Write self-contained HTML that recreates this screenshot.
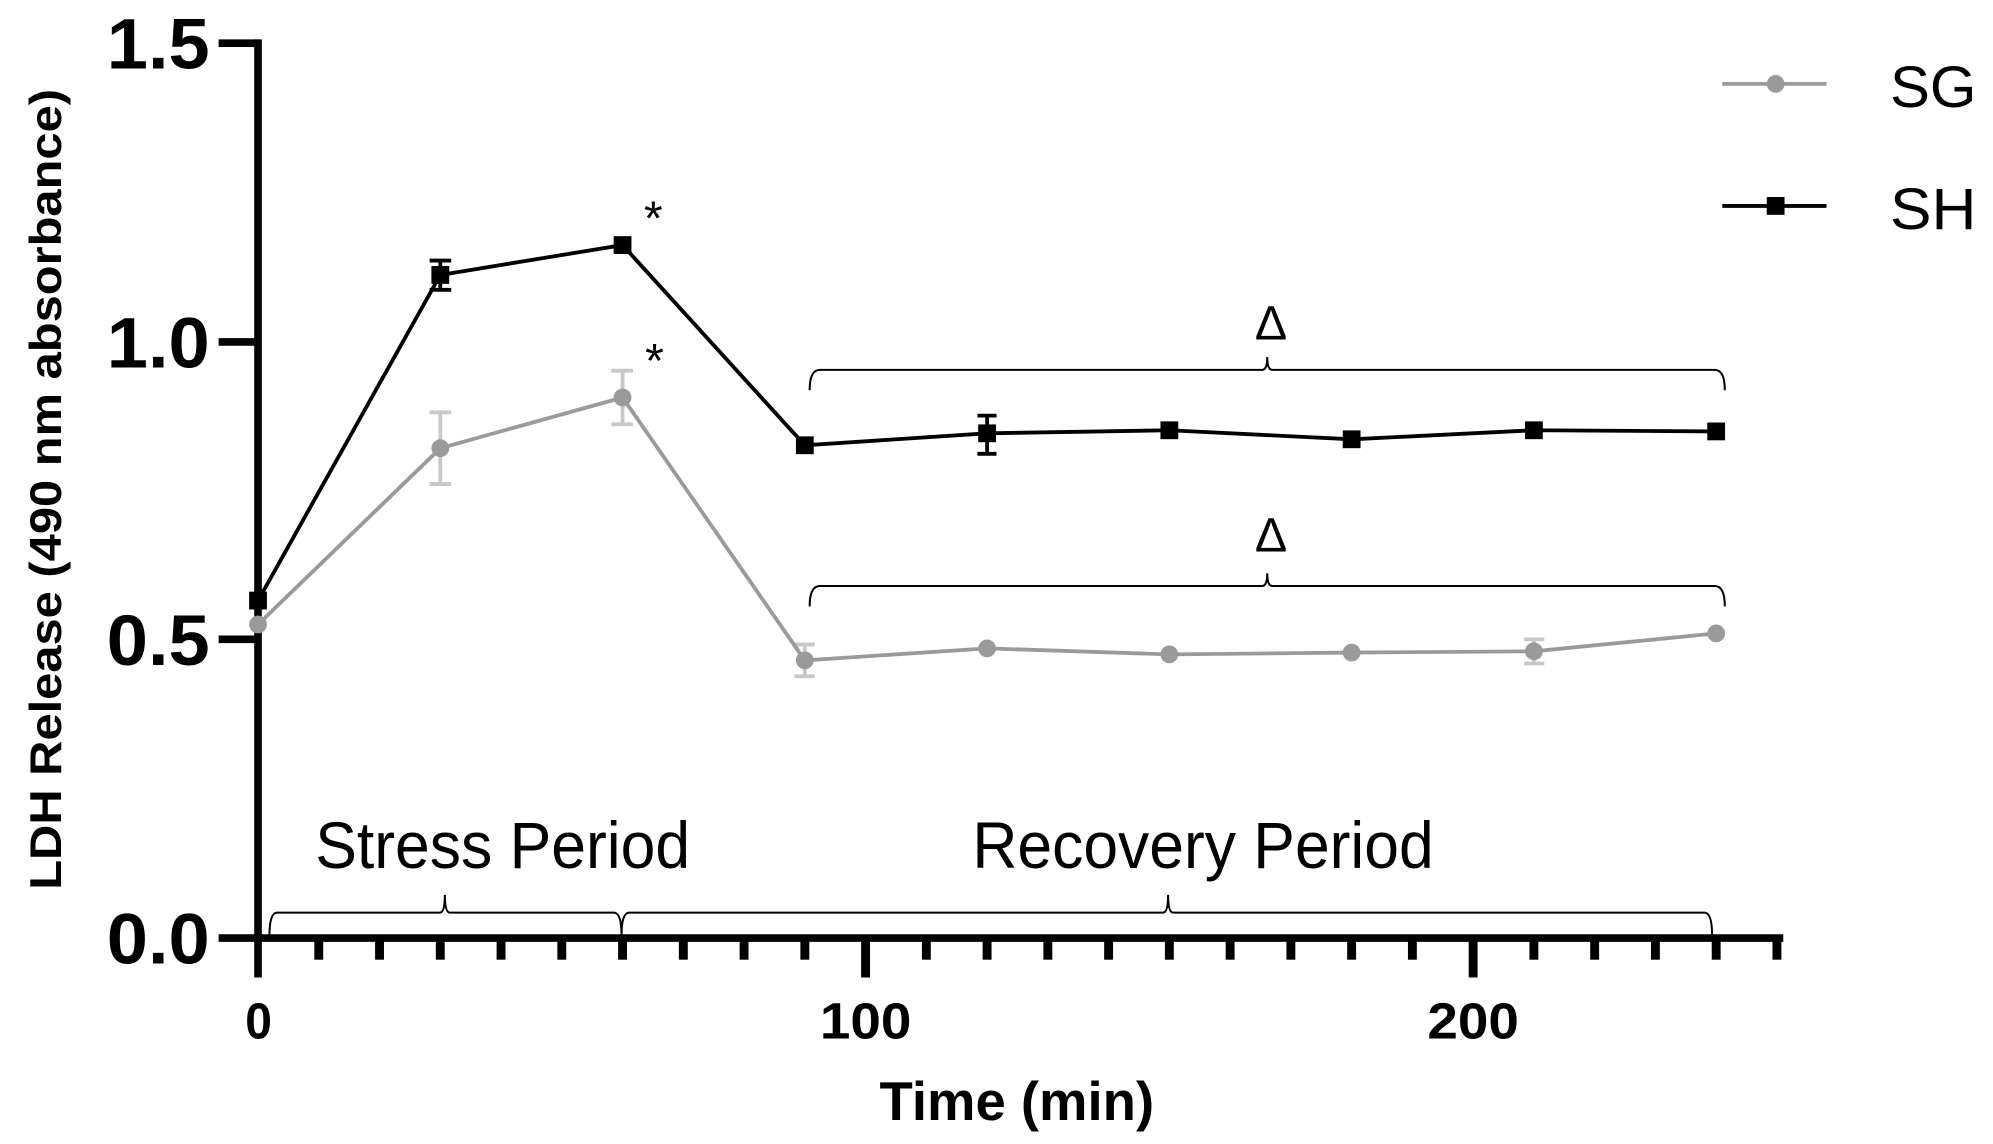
<!DOCTYPE html>
<html><head><meta charset="utf-8"><style>
html,body{margin:0;padding:0;background:#fff;}
svg{display:block;}
text{font-family:"Liberation Sans",Arial,sans-serif;}
</style></head><body>
<svg width="1993" height="1144" viewBox="0 0 1568 900" preserveAspectRatio="none" xmlns="http://www.w3.org/2000/svg">
<rect width="1568" height="900" fill="#fff"/>
<g stroke="#000" stroke-width="6" fill="none">
<line x1="203" y1="31" x2="203" y2="769"/>
<line x1="172" y1="738" x2="1403" y2="738"/>
<line x1="172" y1="34" x2="203" y2="34"/>
<line x1="172" y1="269" x2="203" y2="269"/>
<line x1="172" y1="503" x2="203" y2="503"/>
</g>
<g stroke="#000" stroke-width="7">
<line x1="250.8" y1="738" x2="250.8" y2="755"/><line x1="298.6" y1="738" x2="298.6" y2="755"/><line x1="346.4" y1="738" x2="346.4" y2="755"/><line x1="394.2" y1="738" x2="394.2" y2="755"/><line x1="442" y1="738" x2="442" y2="755"/><line x1="489.8" y1="738" x2="489.8" y2="755"/><line x1="537.6" y1="738" x2="537.6" y2="755"/><line x1="585.4" y1="738" x2="585.4" y2="755"/><line x1="633.2" y1="738" x2="633.2" y2="755"/>
<line x1="681" y1="738" x2="681" y2="769"/>
<line x1="728.8" y1="738" x2="728.8" y2="755"/><line x1="776.6" y1="738" x2="776.6" y2="755"/><line x1="824.4" y1="738" x2="824.4" y2="755"/><line x1="872.2" y1="738" x2="872.2" y2="755"/><line x1="920" y1="738" x2="920" y2="755"/><line x1="967.8" y1="738" x2="967.8" y2="755"/><line x1="1015.6" y1="738" x2="1015.6" y2="755"/><line x1="1063.4" y1="738" x2="1063.4" y2="755"/><line x1="1111.2" y1="738" x2="1111.2" y2="755"/>
<line x1="1159" y1="738" x2="1159" y2="769"/>
<line x1="1206.8" y1="738" x2="1206.8" y2="755"/><line x1="1254.6" y1="738" x2="1254.6" y2="755"/><line x1="1302.4" y1="738" x2="1302.4" y2="755"/><line x1="1350.2" y1="738" x2="1350.2" y2="755"/><line x1="1398" y1="738" x2="1398" y2="755"/>
</g>
<g font-weight="bold" font-size="56" fill="#000">
<text x="84" y="54" textLength="81" lengthAdjust="spacingAndGlyphs">1.5</text>
<text x="84" y="289" textLength="81" lengthAdjust="spacingAndGlyphs">1.0</text>
<text x="84" y="523" textLength="81" lengthAdjust="spacingAndGlyphs">0.5</text>
<text x="84" y="758" textLength="81" lengthAdjust="spacingAndGlyphs">0.0</text>
</g>
<g font-weight="bold" font-size="40" fill="#000">
<text x="193" y="817" textLength="21" lengthAdjust="spacingAndGlyphs">0</text>
<text x="645" y="817" textLength="72" lengthAdjust="spacingAndGlyphs">100</text>
<text x="1123" y="817" textLength="72" lengthAdjust="spacingAndGlyphs">200</text>
<text x="692" y="881" font-size="43" textLength="216" lengthAdjust="spacingAndGlyphs">Time (min)</text>
<text transform="translate(48,700) rotate(-90)" font-size="35" textLength="630" lengthAdjust="spacingAndGlyphs">LDH Release (490 nm absorbance)</text>
</g>
<g stroke="#000" stroke-width="1.6" fill="none">
<path d="M637,307 Q637,291 645,291 L993,291 Q997,291 997,281 Q997,291 1001,291 L1349,291 Q1357,291 1357,307"/>
<path d="M637,477 Q637,461 645,461 L993,461 Q997,461 997,451 Q997,461 1001,461 L1349,461 Q1357,461 1357,477"/>
<path d="M212,736 Q212,718 218,718 L346,718 Q350,718 350,704 Q350,718 354,718 L483,718 Q489,718 489,736 Q489,718 495,718 L915,718 Q919,718 919,704 Q919,718 923,718 L1341,718 Q1347,718 1347,736"/>
</g>
<g font-size="52" fill="#000">
<text x="248" y="683" textLength="295" lengthAdjust="spacingAndGlyphs">Stress Period</text>
<text x="765" y="683" textLength="363" lengthAdjust="spacingAndGlyphs">Recovery Period</text>
</g>
<g font-size="38" text-anchor="middle" fill="#000">
<text x="1000" y="267" font-family="Liberation Serif,serif" font-size="38">Δ</text>
<text x="1000" y="434" font-family="Liberation Serif,serif" font-size="38">Δ</text>
<text x="514" y="185">*</text>
<text x="515" y="297">*</text>
</g>
<g stroke="#c8c8c8" stroke-width="3">
<line x1="346.4" y1="324.4" x2="346.4" y2="380.8"/><line x1="338" y1="324.4" x2="355" y2="324.4"/><line x1="338" y1="380.8" x2="355" y2="380.8"/>
<line x1="489.8" y1="291.6" x2="489.8" y2="333.8"/><line x1="481" y1="291.6" x2="498" y2="291.6"/><line x1="481" y1="333.8" x2="498" y2="333.8"/>
<line x1="633.2" y1="507" x2="633.2" y2="532"/><line x1="625" y1="507" x2="641" y2="507"/><line x1="625" y1="532" x2="641" y2="532"/>
<line x1="1206.8" y1="503" x2="1206.8" y2="522"/><line x1="1199" y1="503" x2="1215" y2="503"/><line x1="1199" y1="522" x2="1215" y2="522"/>
</g>
<polyline fill="none" stroke="#9a9a9a" stroke-width="3" points="203,491.3 346.4,352.6 489.8,312.7 633.2,519.5 776.6,510.1 920,514.8 1063.4,513.4 1206.8,512.4 1350.2,498.3"/>
<g fill="#9a9a9a">
<circle cx="203" cy="491.3" r="7"/><circle cx="346.4" cy="352.6" r="7"/><circle cx="489.8" cy="312.7" r="7"/><circle cx="633.2" cy="519.5" r="7"/><circle cx="776.6" cy="510.1" r="7"/><circle cx="920" cy="514.8" r="7"/><circle cx="1063.4" cy="513.4" r="7"/><circle cx="1206.8" cy="512.4" r="7"/><circle cx="1350.2" cy="498.3" r="7"/>
</g>
<g stroke="#000" stroke-width="3">
<line x1="346.4" y1="205" x2="346.4" y2="228"/><line x1="338" y1="205" x2="355" y2="205"/><line x1="338" y1="228" x2="355" y2="228"/>
<line x1="776.6" y1="327" x2="776.6" y2="357"/><line x1="769" y1="327" x2="784" y2="327"/><line x1="769" y1="357" x2="784" y2="357"/>
</g>
<polyline fill="none" stroke="#000" stroke-width="3" points="203,472.5 346.4,216.3 489.8,192.8 633.2,350.3 776.6,340.9 920,338.5 1063.4,345.6 1206.8,338.5 1350.2,339.4"/>
<g fill="#000">
<rect x="196" y="465.5" width="14" height="14"/><rect x="339.4" y="209.3" width="14" height="14"/><rect x="482.8" y="185.8" width="14" height="14"/><rect x="626.2" y="343.3" width="14" height="14"/><rect x="769.6" y="333.9" width="14" height="14"/><rect x="913" y="331.5" width="14" height="14"/><rect x="1056.4" y="338.6" width="14" height="14"/><rect x="1199.8" y="331.5" width="14" height="14"/><rect x="1343.2" y="332.4" width="14" height="14"/>
</g>
<line x1="1355" y1="66" x2="1437" y2="66" stroke="#9a9a9a" stroke-width="3"/>
<circle cx="1397" cy="66" r="7" fill="#9a9a9a"/>
<line x1="1355" y1="162" x2="1437" y2="162" stroke="#000" stroke-width="3"/>
<rect x="1390" y="155" width="14" height="14" fill="#000"/>
<g font-size="46" fill="#000">
<text x="1487" y="84" textLength="68" lengthAdjust="spacingAndGlyphs">SG</text>
<text x="1487" y="180" textLength="68" lengthAdjust="spacingAndGlyphs">SH</text>
</g>
</svg>
</body></html>
